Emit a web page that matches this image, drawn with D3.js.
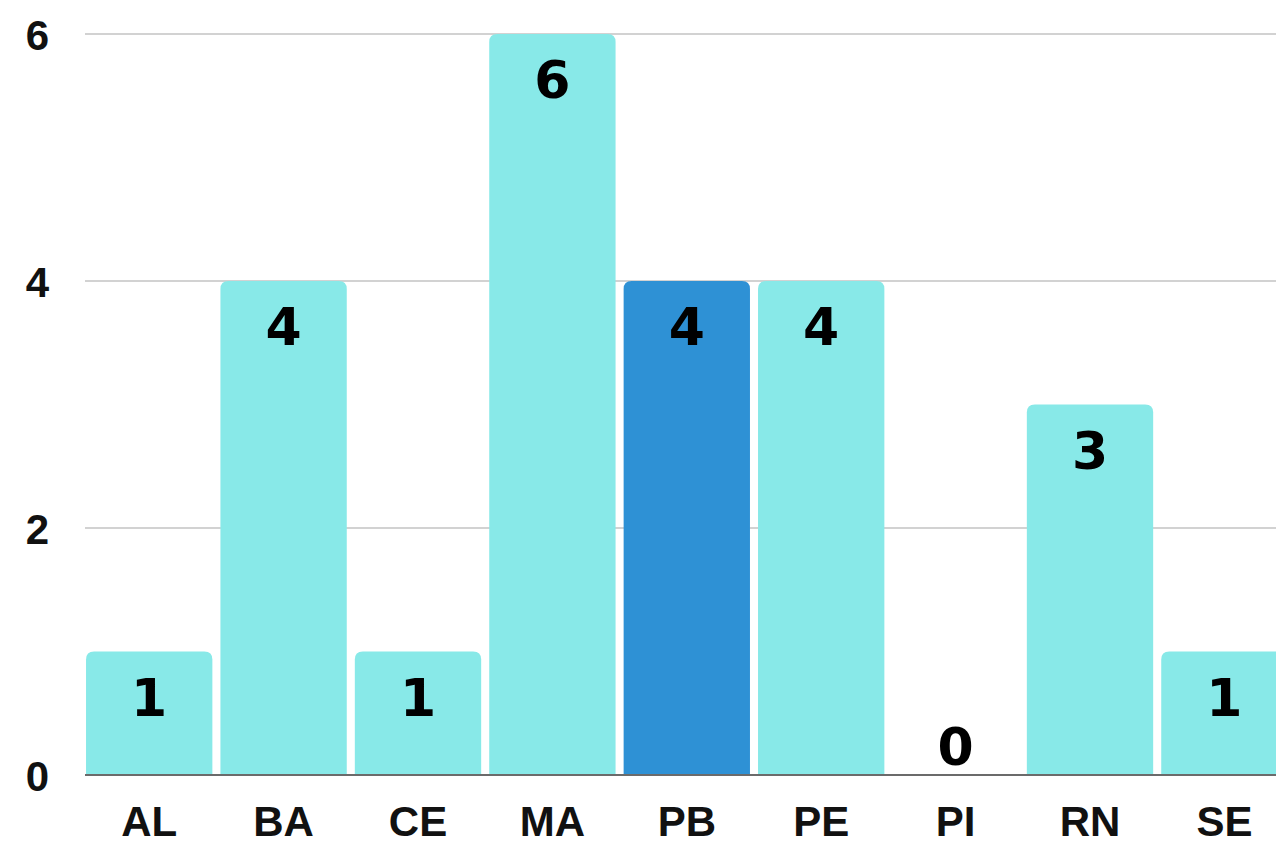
<!DOCTYPE html>
<html><head><meta charset="utf-8">
<script src="https://cdn.jsdelivr.net/npm/d3@7"></script>
<style>html,body{margin:0;padding:0;background:#fff;overflow:hidden}</style>
</head><body>
<svg id="c" width="1276" height="846"></svg>
<script>
const categories = ["AL","BA","CE","MA","PB","PE","PI","RN","SE"];
const values = [1,4,1,6,4,4,0,3,1];
const highlighted = ["PB"];
const yTicks = [0,2,4,6];

const W = 1276, H = 846;
const svg = d3.select("#c");
const x = d3.scaleBand().domain(categories).range([82, 1291.6]).paddingInner(0.06).paddingOuter(0.03);
const y = d3.scaleLinear().domain([0,6]).range([775,34]);

// grid
svg.append("g").selectAll("line").data(yTicks.filter(d=>d>0)).join("line")
  .attr("x1",85).attr("x2",W).attr("y1",d=>y(d)).attr("y2",d=>y(d))
  .attr("stroke","#c3c3c3").attr("stroke-width",1.5);

// y axis labels
const yAxis = d3.axisLeft(y).tickValues(yTicks).tickFormat(d3.format("d")).tickSize(0).tickPadding(0);
const gy = svg.append("g").attr("transform","translate(49,0)").call(yAxis);
gy.select(".domain").remove();
gy.selectAll("text").attr("font-family","'Liberation Sans', Arial, sans-serif")
  .attr("font-weight","bold").attr("font-size",42).attr("fill","#111")
  .attr("text-anchor","end").attr("dy","0.36em");

// bars with rounded tops
const r = 8;
function barPath(d, i){
  const x0 = x(categories[i]), w = x.bandwidth(), yb = y(0), yt = y(d);
  const h = yb - yt;
  if (h <= 0) return "";
  const rr = Math.min(r, h);
  return `M${x0},${yb}V${yt+rr}Q${x0},${yt} ${x0+rr},${yt}H${x0+w-rr}Q${x0+w},${yt} ${x0+w},${yt+rr}V${yb}Z`;
}
svg.append("g").selectAll("path").data(values).join("path")
  .attr("d",(d,i)=>barPath(d,i))
  .attr("fill",(d,i)=>highlighted.includes(categories[i]) ? "#2e91d5" : "#88e9e8");

// baseline
svg.append("line").attr("x1",85).attr("x2",W).attr("y1",y(0)).attr("y2",y(0))
  .attr("stroke","#6b6b6b").attr("stroke-width",2);

// value labels
svg.append("g").selectAll("text").data(values).join("text")
  .attr("x",(d,i)=>x(categories[i])+x.bandwidth()/2)
  .attr("y",d=> d>0 ? y(d)+64 : y(0)-10)
  .attr("text-anchor","middle")
  .attr("font-family","'DejaVu Sans', sans-serif").attr("font-weight","bold")
  .attr("font-size",52).attr("fill","#000")
  .text(d=>d);

// x axis labels
const xAxis = d3.axisBottom(x).tickSize(0).tickPadding(0);
const gx = svg.append("g").attr("transform","translate(0,836)").call(xAxis);
gx.select(".domain").remove();
gx.selectAll("text").attr("font-family","'Liberation Sans', Arial, sans-serif")
  .attr("font-weight","bold").attr("font-size",42).attr("fill","#111").attr("dy",0);
</script>
</body></html>
